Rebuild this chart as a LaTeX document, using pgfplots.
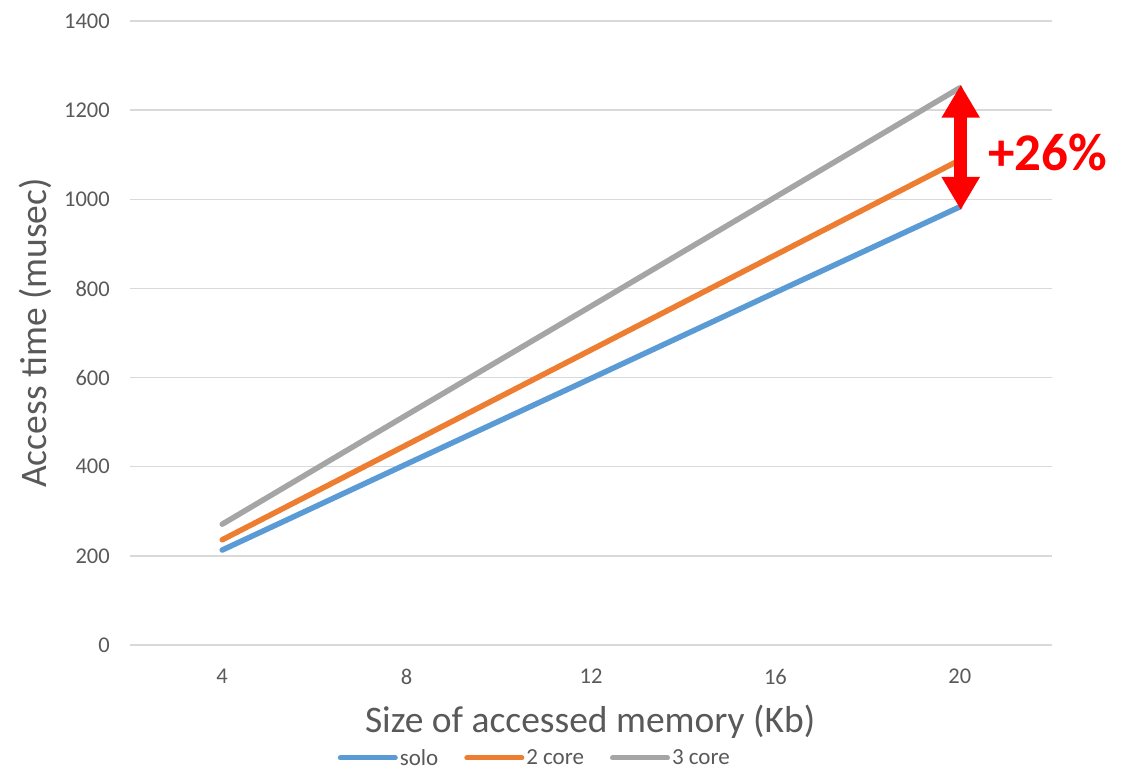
\documentclass[border=0pt]{standalone}
\usepackage{fontspec}
\setmainfont{Carlito}
\usepackage{pgfplots}
\pgfplotsset{compat=1.18}
\usetikzlibrary{arrows.meta}

\definecolor{soloblue}{HTML}{5B9BD5}
\definecolor{twoorange}{HTML}{ED7D31}
\definecolor{threegray}{HTML}{A5A5A5}
\definecolor{gridgray}{HTML}{D9D9D9}
\definecolor{textgray}{HTML}{595959}

\begin{document}
\begin{tikzpicture}[x=1pt,y=1pt]
\begin{axis}[
  at={(130pt,124pt)}, anchor=south west,
  scale only axis, width=922pt, height=624pt,
  xmin=-0.5, xmax=4.5, ymin=0, ymax=1400,
  xtick={0,1,2,3,4}, xticklabels={4,8,12,16,20},
  ytick={0,200,...,1400},
  major tick length=0pt,
  axis line style={draw=none},
  axis x line*=bottom, axis y line*=left,
  ymajorgrids, grid style={gridgray, line width=1.3pt},
  /pgf/number format/assume math mode=true,
  /pgf/number format/set thousands separator={},
  ticklabel style={font=\fontsize{22.5}{26}\selectfont, text=textgray, inner sep=0pt},
  yticklabel style={anchor=east, xshift=-20pt},
  xticklabel style={anchor=north, yshift=-24pt},
  xlabel={Size of accessed memory (Kb)},
  ylabel={Access time (musec)},
  label style={font=\fontsize{37.5}{42}\selectfont, text=textgray},
  xlabel style={at={(axis description cs:0.499,-0.1234)}, anchor=center},
  ylabel style={at={(axis description cs:-0.103,0.5)}, anchor=center},
  legend columns=3,
  legend style={draw=none, fill=none, at={(axis description cs:0.439,-0.181)}, anchor=center,
    font=\fontsize{23}{26}\selectfont, text=textgray,
    /tikz/every even column/.append style={column sep=24pt},
    inner sep=0pt, cells={inner sep=1pt}},
  legend image code/.code={\draw[#1, line width=5pt, line cap=round] (0pt,0pt) -- (55pt,0pt);},
  clip=false,
  every axis plot/.append style={line width=5.5pt, line cap=round, line join=round, mark=none},
]
% bottom axis line drawn in grid colour
\draw[gridgray, line width=1.3pt] (axis cs:-0.5,0) -- (axis cs:4.5,0);

\addplot[soloblue] coordinates {(0,213) (1,406) (2,598) (3,791) (4,983)};
\addlegendentry{solo}
\addplot[twoorange] coordinates {(0,236) (1,449) (2,662) (3,875) (4,1088)};
\addlegendentry{2 core}
\addplot[threegray] coordinates {(0,271) (1,516) (2,760) (3,1005) (4,1250)};
\addlegendentry{3 core}

% growth annotation
\draw[red, line width=13pt, {Triangle[width=36pt,length=33pt]}-{Triangle[width=36pt,length=33pt]}]
  (axis cs:4.005,976) -- (axis cs:4.005,1257);
\node[anchor=west, text=red, font=\fontsize{53}{58}\selectfont\bfseries, inner sep=0pt]
  at (axis cs:4.152,1106) {+26\%};
\end{axis}
\pgfresetboundingbox
\path[use as bounding box] (0,0) rectangle (1124pt,769pt);
\end{tikzpicture}
\end{document}
